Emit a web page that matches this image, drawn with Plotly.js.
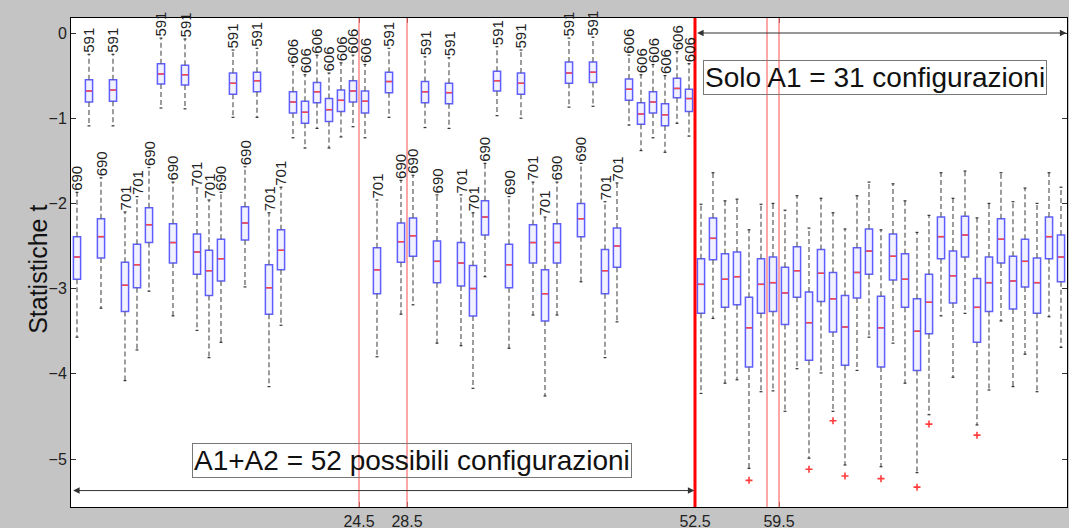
<!DOCTYPE html>
<html>
<head>
<meta charset="utf-8">
<script src="https://cdn.plot.ly/plotly-3.0.1.min.js"></script>
<style>html,body{margin:0;padding:0;background:#c4c4c4;}#chart{width:1069px;height:528px;}</style>
</head>
<body>
<div id="chart"></div>
<script>
// ---- data ----
const upperFence = [-1.87,-0.25,-1.70,-0.25,-2.10,-1.92,-1.58,-0.06,-1.75,-0.07,
  -1.82,-1.96,-1.87,-0.20,-1.57,-0.18,-2.11,-1.81,-0.38,-0.49,
  -0.26,-0.47,-0.35,-0.26,-0.37,-1.96,-0.18,-1.73,-1.67,-0.28,
  -1.90,-0.29,-1.90,-2.11,-1.53,-0.16,-1.92,-0.20,-1.75,-2.16,
  -1.75,-0.06,-1.53,-0.05,-1.98,-1.76,-0.26,-0.49,-0.37,-0.50,
  -0.22,-0.36,-2.01,-1.64,-1.97,-1.95,-2.31,-2.01,-2.00,-2.08,
  -1.91,-2.29,-1.94,-2.11,-2.30,-1.91,-1.75,-2.31,-1.77,-1.97,
  -2.34,-2.14,-1.64,-1.94,-1.62,-2.17,-2.00,-1.64,-1.98,-1.82,
  -2.00,-1.64,-1.81];
const q3 = [-2.39,-0.55,-2.18,-0.55,-2.69,-2.48,-2.05,-0.36,-2.24,-0.38,
  -2.36,-2.55,-2.42,-0.47,-2.04,-0.46,-2.72,-2.31,-0.69,-0.80,
  -0.58,-0.77,-0.67,-0.56,-0.68,-2.52,-0.46,-2.23,-2.17,-0.57,
  -2.44,-0.59,-2.46,-2.73,-1.97,-0.45,-2.48,-0.47,-2.25,-2.78,
  -2.24,-0.34,-2.00,-0.34,-2.54,-2.29,-0.54,-0.82,-0.69,-0.83,
  -0.53,-0.66,-2.65,-2.17,-2.59,-2.57,-3.10,-2.65,-2.63,-2.75,
  -2.51,-3.04,-2.54,-2.81,-3.08,-2.52,-2.30,-3.09,-2.36,-2.59,
  -3.12,-2.83,-2.16,-2.56,-2.15,-2.88,-2.63,-2.18,-2.62,-2.42,
  -2.64,-2.16,-2.37];
const median = [-2.63,-0.68,-2.39,-0.67,-2.96,-2.72,-2.25,-0.48,-2.46,-0.49,
  -2.57,-2.79,-2.65,-0.59,-2.23,-0.56,-2.99,-2.55,-0.81,-0.93,
  -0.69,-0.90,-0.79,-0.68,-0.80,-2.78,-0.57,-2.45,-2.38,-0.69,
  -2.68,-0.70,-2.70,-3.00,-2.16,-0.56,-2.72,-0.59,-2.46,-3.06,
  -2.46,-0.47,-2.18,-0.46,-2.79,-2.50,-0.66,-0.95,-0.81,-0.96,
  -0.65,-0.77,-2.95,-2.41,-2.89,-2.86,-3.46,-2.95,-2.93,-3.05,
  -2.79,-3.40,-2.82,-3.12,-3.45,-2.81,-2.56,-3.46,-2.62,-2.89,
  -3.50,-3.16,-2.39,-2.85,-2.37,-3.22,-2.93,-2.42,-2.91,-2.68,
  -2.93,-2.39,-2.63];
const q1 = [-2.89,-0.81,-2.64,-0.80,-3.27,-2.99,-2.46,-0.60,-2.70,-0.61,
  -2.83,-3.08,-2.91,-0.72,-2.43,-0.69,-3.30,-2.78,-0.94,-1.06,
  -0.82,-1.04,-0.92,-0.81,-0.94,-3.06,-0.70,-2.69,-2.62,-0.82,
  -2.93,-0.83,-2.97,-3.32,-2.37,-0.68,-2.99,-0.72,-2.70,-3.38,
  -2.70,-0.59,-2.39,-0.58,-3.06,-2.75,-0.79,-1.07,-0.94,-1.09,
  -0.76,-0.92,-3.29,-2.66,-3.22,-3.19,-3.92,-3.29,-3.27,-3.42,
  -3.10,-3.84,-3.15,-3.51,-3.90,-3.11,-2.83,-3.92,-2.90,-3.22,
  -3.96,-3.53,-2.65,-3.17,-2.63,-3.63,-3.27,-2.70,-3.24,-2.98,
  -3.29,-2.65,-2.92];
const lowerFence = [-3.57,-1.09,-3.23,-1.09,-4.08,-3.72,-3.03,-0.88,-3.32,-0.89,
  -3.49,-3.81,-3.63,-0.99,-2.98,-0.99,-4.15,-3.43,-1.23,-1.35,
  -1.12,-1.35,-1.22,-1.10,-1.23,-3.80,-0.99,-3.30,-3.19,-1.11,
  -3.64,-1.12,-3.67,-4.17,-2.86,-0.97,-3.70,-1.00,-3.31,-4.26,
  -3.31,-0.87,-2.92,-0.86,-3.81,-3.39,-1.08,-1.38,-1.23,-1.40,
  -1.06,-1.21,-4.23,-3.35,-4.11,-4.07,-5.11,-4.21,-4.20,-4.44,
  -3.94,-4.99,-3.99,-4.44,-5.07,-3.96,-3.57,-5.09,-3.64,-4.11,
  -5.16,-4.48,-3.32,-4.04,-3.29,-4.60,-4.19,-3.38,-4.15,-3.77,
  -4.21,-3.33,-3.69];
const boxLabels = ['690','591','690','591','701','701','690','591','690','591',
  '701','701','690','591','690','591','701','701','606','606',
  '606','606','606','606','606','701','591','690','690','591',
  '690','591','701','701','690','591','690','591','701','701',
  '690','591','690','591','701','701','606','606','606','606',
  '606','606'];
const outlierPos = [57, 62, 64, 65, 68, 71, 72, 76];
const outlierVal = [-5.25, -5.12, -4.55, -5.20, -5.23, -5.33, -4.59, -4.72];
const xTickVals = [24.5, 28.5, 52.5, 59.5];
const thinRefLines = [24.5, 28.5, 58.5, 59.5];
const mainRefLine = 52.5;
const groupAll = {from: 0.5, to: 52.5, text: 'A1+A2 = 52 possibili configurazioni'};
const groupA1 = {from: 52.5, to: 83.5, text: 'Solo A1 = 31 configurazioni'};
const yTitle = 'Statistiche t';

// ---- build ----
const pos = median.map((_, i) => i + 1);
const half = 0.3, cap = 0.12;

const boxTrace = {
  type: 'box', x: pos, q1: q1, median: median, q3: q3,
  lowerfence: q1, upperfence: q3,
  width: 0.6, boxpoints: false,
  line: {color: 'rgb(95,95,255)', width: 1.5},
  fillcolor: 'rgba(215,215,255,0.35)',
  whiskerwidth: 0, showlegend: false, hoverinfo: 'skip'
};

const wx = [], wy = [], cx = [], cy = [], mx = [], my = [];
pos.forEach((p, i) => {
  wx.push(p, p, null, p, p, null);
  wy.push(q3[i], upperFence[i], null, q1[i], lowerFence[i], null);
  cx.push(p - cap, p + cap, null, p - cap, p + cap, null);
  cy.push(upperFence[i], upperFence[i], null, lowerFence[i], lowerFence[i], null);
  mx.push(p - half + 0.06, p + half - 0.06, null);
  my.push(median[i], median[i], null);
});
const whiskers = {type: 'scatter', mode: 'lines', x: wx, y: wy,
  line: {color: '#5a5a5a', width: 1.2, dash: '5px,3px'}, showlegend: false, hoverinfo: 'skip'};
const caps = {type: 'scatter', mode: 'lines', x: cx, y: cy,
  line: {color: '#333', width: 1.2}, showlegend: false, hoverinfo: 'skip'};
const medians = {type: 'scatter', mode: 'lines', x: mx, y: my,
  line: {color: 'rgb(255,70,70)', width: 1.5}, showlegend: false, hoverinfo: 'skip'};
const outliers = {type: 'scatter', mode: 'markers', x: outlierPos, y: outlierVal,
  marker: {symbol: 'cross-thin-open', size: 5, color: 'rgb(255,60,60)', line: {width: 1.6, color: 'rgb(255,60,60)'}},
  showlegend: false, hoverinfo: 'skip'};

const font = 'Liberation Sans, Arial, sans-serif';
const annotations = boxLabels.map((t, i) => ({
  x: pos[i], y: upperFence[i], xref: 'x', yref: 'y', text: t,
  textangle: -90, showarrow: false, xanchor: 'center', yanchor: 'bottom',
  font: {family: font, size: 15, color: '#222'}, borderpad: 0
}));

function arrow(g, yv) {
  return {x: g.to - 0.05, y: yv, ax: g.from + 0.05, ay: yv, xref: 'x', yref: 'y',
    axref: 'x', ayref: 'y', text: '', showarrow: true, arrowside: 'end+start',
    arrowhead: 2, arrowsize: 1.3, arrowwidth: 1, arrowcolor: '#333', standoff: 0, startstandoff: 0};
}
annotations.push(arrow(groupA1, 0));
annotations.push(arrow(groupAll, -5.37));
annotations.push({x: 67.5, y: -0.525, xref: 'x', yref: 'y', text: groupA1.text, showarrow: false,
  xanchor: 'center', yanchor: 'middle', font: {family: font, size: 28, color: '#111'},
  bordercolor: '#777', borderwidth: 1, borderpad: 1, bgcolor: 'rgba(255,255,255,0)'});
annotations.push({x: 28.9, y: -5.02, xref: 'x', yref: 'y', text: groupAll.text, showarrow: false,
  xanchor: 'center', yanchor: 'middle', font: {family: font, size: 28, color: '#111'},
  bordercolor: '#777', borderwidth: 1, borderpad: 1, bgcolor: 'rgba(255,255,255,0)'});
annotations.push({x: -0.0331, y: 0.485, xref: 'paper', yref: 'paper', text: yTitle, showarrow: false,
  textangle: -90, xanchor: 'center', yanchor: 'middle', font: {family: font, size: 25, color: '#111'}});

const shapes = thinRefLines.map(v => ({type: 'line', xref: 'x', yref: 'paper', x0: v, x1: v, y0: 0, y1: 1,
  line: {color: 'rgb(255,120,120)', width: 1.3}, layer: 'above'}));
shapes.push({type: 'line', xref: 'x', yref: 'paper', x0: mainRefLine, x1: mainRefLine, y0: 0, y1: 1,
  line: {color: 'rgb(255,0,0)', width: 3}, layer: 'above'});

const layout = {
  width: 1069, height: 528,
  margin: {l: 71, r: 2, t: 18, b: 21},
  paper_bgcolor: '#c4c4c4', plot_bgcolor: '#ffffff',
  font: {family: font, color: '#222'},
  showlegend: false,
  xaxis: {range: [0.5, 83.5], tickvals: xTickVals, ticktext: xTickVals.map(v => v.toFixed(1)),
    showgrid: false, zeroline: false, showline: true, mirror: 'ticks', linecolor: '#000', linewidth: 1,
    ticks: 'inside', ticklen: 5, tickcolor: '#333', tickfont: {size: 16, color: '#222'}},
  yaxis: {range: [-5.563, 0.176], tickvals: [0, -1, -2, -3, -4, -5],
    showgrid: false, zeroline: false, showline: true, mirror: 'ticks', linecolor: '#000', linewidth: 1,
    ticks: 'inside', ticklen: 5, tickcolor: '#333', tickfont: {size: 16, color: '#222'}},
  shapes: shapes,
  annotations: annotations
};

Plotly.newPlot('chart', [whiskers, boxTrace, caps, medians, outliers], layout, {displayModeBar: false, staticPlot: true});
</script>
</body>
</html>
